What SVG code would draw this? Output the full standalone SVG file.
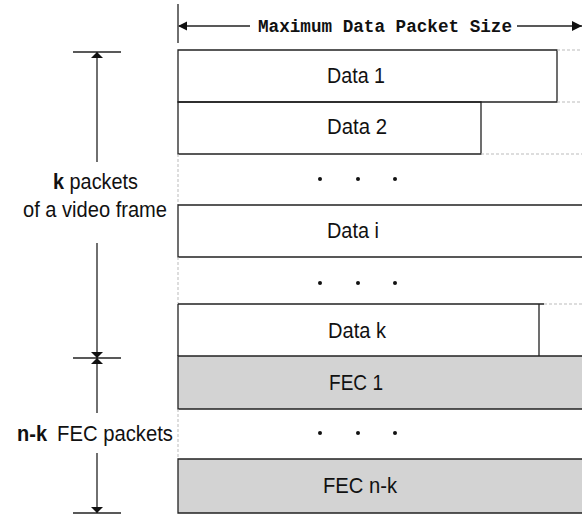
<svg xmlns="http://www.w3.org/2000/svg" width="582" height="515" viewBox="0 0 582 515">
  <defs>
    <marker id="tri" viewBox="0 0 10 10" refX="10" refY="5" markerWidth="10" markerHeight="10" markerUnits="userSpaceOnUse" orient="auto">
      <path d="M0,0 L10,5 L0,10 Z" fill="#111"/>
    </marker>
    <marker id="triV" viewBox="0 0 6 12" refX="6" refY="6" markerWidth="6" markerHeight="12" markerUnits="userSpaceOnUse" orient="auto">
      <path d="M0,0 L6,6 L0,12 Z" fill="#111"/>
    </marker>
  </defs>
  <style>
    .box { fill: #ffffff; stroke: #222; stroke-width: 1.3; }
    .fec { fill: #d3d3d3; stroke: #222; stroke-width: 1.3; }
    .edge { stroke: #222; stroke-width: 1.3; fill: none; }
    .faint { stroke: #bbb; stroke-width: 1; stroke-dasharray: 3 2; fill: none; }
    .lbl { font-family: "Liberation Sans", Arial, sans-serif; font-size: 22px; fill: #111; }
    .title { font-family: "Liberation Mono", "Courier New", monospace; font-size: 19px; font-weight: bold; fill: #111; }
    .dot { fill: #111; }
  </style>

  <!-- width dimension across the top -->
  <g id="size-dim">
    <line class="edge" x1="178" y1="4" x2="178" y2="43"/>
    <line class="edge" x1="179" y1="26" x2="250" y2="26"/>
    <path d="M178,26 L187,21.5 L187,30.5 Z" fill="#111"/>
    <line class="edge" x1="517" y1="26" x2="582" y2="26" marker-end="url(#tri)"/>
    <text class="title" x="258" y="32" textLength="254" lengthAdjust="spacingAndGlyphs">Maximum Data Packet Size</text>
  </g>

  <!-- packet rows -->
  <g id="data-1">
    <path class="edge" d="M178,50 H557 V102 H178 Z"/>
    <line class="faint" x1="557" y1="50" x2="582" y2="50"/>
    <text class="lbl" x="327" y="83" textLength="58" lengthAdjust="spacingAndGlyphs">Data 1</text>
  </g>
  <g id="data-2">
    <path class="edge" d="M178,102 H481 V154 H178 Z"/>
    <line class="faint" x1="557" y1="102" x2="582" y2="102"/>
    <line class="faint" x1="481" y1="154" x2="582" y2="154"/>
    <text class="lbl" x="327" y="134" textLength="60" lengthAdjust="spacingAndGlyphs">Data 2</text>
  </g>
  <g id="gap-1">
    <line class="faint" x1="178" y1="154" x2="178" y2="205"/>
    <circle class="dot" cx="320" cy="179" r="2"/>
    <circle class="dot" cx="358" cy="179" r="2"/>
    <circle class="dot" cx="395" cy="179" r="2"/>
  </g>
  <g id="data-i">
    <path class="edge" d="M582,205 H178 V257 H582"/>
    <text class="lbl" x="327" y="238" textLength="52" lengthAdjust="spacingAndGlyphs">Data i</text>
  </g>
  <g id="gap-2">
    <line class="faint" x1="178" y1="257" x2="178" y2="304"/>
    <circle class="dot" cx="320" cy="283" r="2"/>
    <circle class="dot" cx="358" cy="283" r="2"/>
    <circle class="dot" cx="395" cy="283" r="2"/>
  </g>
  <g id="data-k">
    <path class="edge" d="M178,304 H544 M539,304 V356 M178,304 V356"/>
    <line class="faint" x1="544" y1="304" x2="582" y2="304"/>
    <text class="lbl" x="328" y="338" textLength="58" lengthAdjust="spacingAndGlyphs">Data k</text>
  </g>
  <g id="fec-1">
    <path class="fec" d="M582,356 H178 V409 H582"/>
    <text class="lbl" x="329" y="390" textLength="54" lengthAdjust="spacingAndGlyphs">FEC 1</text>
  </g>
  <g id="gap-3">
    <line class="faint" x1="178" y1="409" x2="178" y2="459"/>
    <circle class="dot" cx="320" cy="433" r="2"/>
    <circle class="dot" cx="358" cy="433" r="2"/>
    <circle class="dot" cx="395" cy="433" r="2"/>
  </g>
  <g id="fec-n-k">
    <path class="fec" d="M582,459 H178 V513 H582"/>
    <text class="lbl" x="323" y="493" textLength="74" lengthAdjust="spacingAndGlyphs">FEC n-k</text>
  </g>

  <!-- count dimensions on the left -->
  <g id="connectors">
    <line class="edge" x1="73" y1="52" x2="121" y2="52"/>
    <line class="edge" x1="73" y1="358" x2="121" y2="358"/>
    <line class="edge" x1="73" y1="513" x2="121" y2="513"/>
    <line class="edge" x1="97" y1="162" x2="97" y2="52" marker-end="url(#triV)"/>
    <line class="edge" x1="97" y1="243" x2="97" y2="358" marker-end="url(#triV)"/>
    <line class="edge" x1="97" y1="413" x2="97" y2="358" marker-end="url(#triV)"/>
    <line class="edge" x1="97" y1="453" x2="97" y2="513" marker-end="url(#triV)"/>
  </g>
  <g id="k-label">
    <text class="lbl" x="53" y="189" textLength="85" lengthAdjust="spacingAndGlyphs"><tspan font-weight="bold">k</tspan> packets</text>
    <text class="lbl" x="23" y="217" textLength="144" lengthAdjust="spacingAndGlyphs">of a video frame</text>
  </g>
  <g id="nk-label">
    <text class="lbl" x="17" y="441"><tspan font-weight="bold" textLength="30" lengthAdjust="spacingAndGlyphs">n-k</tspan><tspan x="57" textLength="116" lengthAdjust="spacingAndGlyphs">FEC packets</tspan></text>
  </g>
</svg>
